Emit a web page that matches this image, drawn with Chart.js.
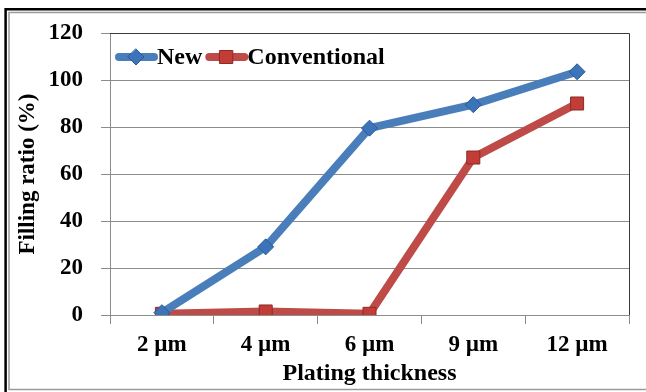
<!DOCTYPE html>
<html>
<head>
<meta charset="utf-8">
<script src="https://cdn.jsdelivr.net/npm/chart.js@4"></script>
<style>
  html, body { margin: 0; padding: 0; background: #fff; }
  #wrap { position: relative; width: 646px; height: 392px; }
</style>
</head>
<body>
<div id="wrap"><canvas id="fillChart" width="646" height="392"></canvas></div>
<script>
// Data
const categories = ["2 µm", "4 µm", "6 µm", "9 µm", "12 µm"];
const newValues = [1, 29, 79.5, 89.5, 103.5];
const conventionalValues = [0.5, 1.5, 0.5, 67, 90];
const yTicks = [0, 20, 40, 60, 80, 100, 120];

const serif = "'Liberation Serif', 'Times New Roman', serif";
const blue = "#4a7ebb";
const red = "#be4b48";

// Frame around the whole picture (black outer line + grey inner line)
const framePlugin = {
    id: "frame",
    beforeDraw(chart) {
        const ctx = chart.ctx;
        ctx.save();
        ctx.fillStyle = "#fff";
        ctx.fillRect(0, 0, chart.width, chart.height);
        ctx.strokeStyle = "#000";
        ctx.lineWidth = 2.5;
        ctx.beginPath();
        ctx.moveTo(646, 9.3);
        ctx.lineTo(5.6, 9.3);
        ctx.lineTo(5.6, 392);
        ctx.stroke();
        ctx.strokeStyle = "#9a9a9a";
        ctx.lineWidth = 1.5;
        ctx.beginPath();
        ctx.moveTo(646, 12.5);
        ctx.lineTo(9, 12.5);
        ctx.lineTo(9, 389.5);
        ctx.lineTo(646, 389.5);
        ctx.stroke();
        ctx.restore();
    },
    afterDatasetsDraw(chart) {
        // dark plot border on top and right side
        const a = chart.chartArea;
        const ctx = chart.ctx;
        ctx.save();
        ctx.strokeStyle = "#3a3a3a";
        ctx.lineWidth = 1;
        ctx.beginPath();
        ctx.moveTo(a.left, a.top + 0.5);
        ctx.lineTo(a.right + 0.5, a.top + 0.5);
        ctx.lineTo(a.right + 0.5, a.bottom);
        ctx.stroke();
        ctx.restore();
    }
};

// Legend drawn inside the plot area, line sample + marker + label
const insideLegend = {
    id: "insideLegend",
    afterDraw(chart) {
        const ctx = chart.ctx;
        const a = chart.chartArea;
        let x = a.left + 6;
        const y = a.top + 24;
        ctx.save();
        ctx.font = "bold 24px " + serif;
        ctx.textBaseline = "middle";
        chart.data.datasets.forEach(ds => {
            ctx.strokeStyle = ds.borderColor;
            ctx.lineWidth = 8;
            ctx.lineCap = "round";
            ctx.beginPath();
            ctx.moveTo(x + 3, y);
            ctx.lineTo(x + 38, y);
            ctx.stroke();
            const cx = x + 20;
            ctx.fillStyle = ds.pointBackgroundColor;
            ctx.strokeStyle = ds.pointBorderColor;
            ctx.lineWidth = 1;
            ctx.beginPath();
            if (ds.pointStyle === "rectRot") {
                ctx.moveTo(cx, y - 8);
                ctx.lineTo(cx + 8, y);
                ctx.lineTo(cx, y + 8);
                ctx.lineTo(cx - 8, y);
                ctx.closePath();
            } else {
                ctx.rect(cx - 6.5, y - 6.5, 13, 13);
            }
            ctx.fill();
            ctx.stroke();
            ctx.fillStyle = "#000";
            ctx.fillText(ds.label, x + 41, y + 1);
            x += 41 + ctx.measureText(ds.label).width + 4;
        });
        ctx.restore();
    }
};

const ctx = document.getElementById("fillChart").getContext("2d");
new Chart(ctx, {
    type: "line",
    data: {
        labels: categories,
        datasets: [
            {
                label: "New",
                data: newValues,
                borderColor: blue,
                borderWidth: 8,
                pointStyle: "rectRot",
                pointRadius: 8,
                pointBackgroundColor: "#3c74ba",
                pointBorderColor: "#2b5a96",
                pointBorderWidth: 1,
                tension: 0
            },
            {
                label: "Conventional",
                data: conventionalValues,
                borderColor: red,
                borderWidth: 8,
                pointStyle: "rect",
                pointRadius: 9.2,
                pointBackgroundColor: "#c23d38",
                pointBorderColor: "#8c2b28",
                pointBorderWidth: 1,
                tension: 0
            }
        ]
    },
    options: {
        responsive: false,
        animation: false,
        layout: { padding: { left: 10, right: 17, top: 33, bottom: 4 } },
        plugins: {
            legend: { display: false },
            tooltip: { enabled: false }
        },
        scales: {
            x: {
                offset: true,
                afterFit: scale => { scale.height = 73; },
                grid: {
                    offset: true,
                    drawOnChartArea: false,
                    tickLength: 9,
                    color: "#8c8c8c"
                },
                border: { color: "#8c8c8c", width: 1 },
                ticks: {
                    color: "#000",
                    padding: 7,
                    font: { family: serif, size: 23, weight: "bold" }
                },
                title: {
                    display: true,
                    text: "Plating thickness",
                    color: "#000",
                    padding: { top: 0, bottom: 0 },
                    font: { family: serif, size: 24, weight: "bold" }
                }
            },
            y: {
                min: 0,
                max: 120,
                afterFit: scale => { scale.width = 100; },
                afterBuildTicks: scale => {
                    scale.ticks = yTicks.map(v => ({ value: v }));
                },
                grid: {
                    tickLength: 9,
                    color: "#8c8c8c"
                },
                border: { color: "#8c8c8c", width: 1 },
                ticks: {
                    color: "#000",
                    padding: 18,
                    font: { family: serif, size: 23, weight: "bold" }
                },
                title: {
                    display: true,
                    text: "Filling ratio (%)",
                    color: "#000",
                    padding: { top: 4, bottom: 0 },
                    font: { family: serif, size: 23, weight: "bold" }
                }
            }
        }
    },
    plugins: [framePlugin, insideLegend]
});
</script>
</body>
</html>
